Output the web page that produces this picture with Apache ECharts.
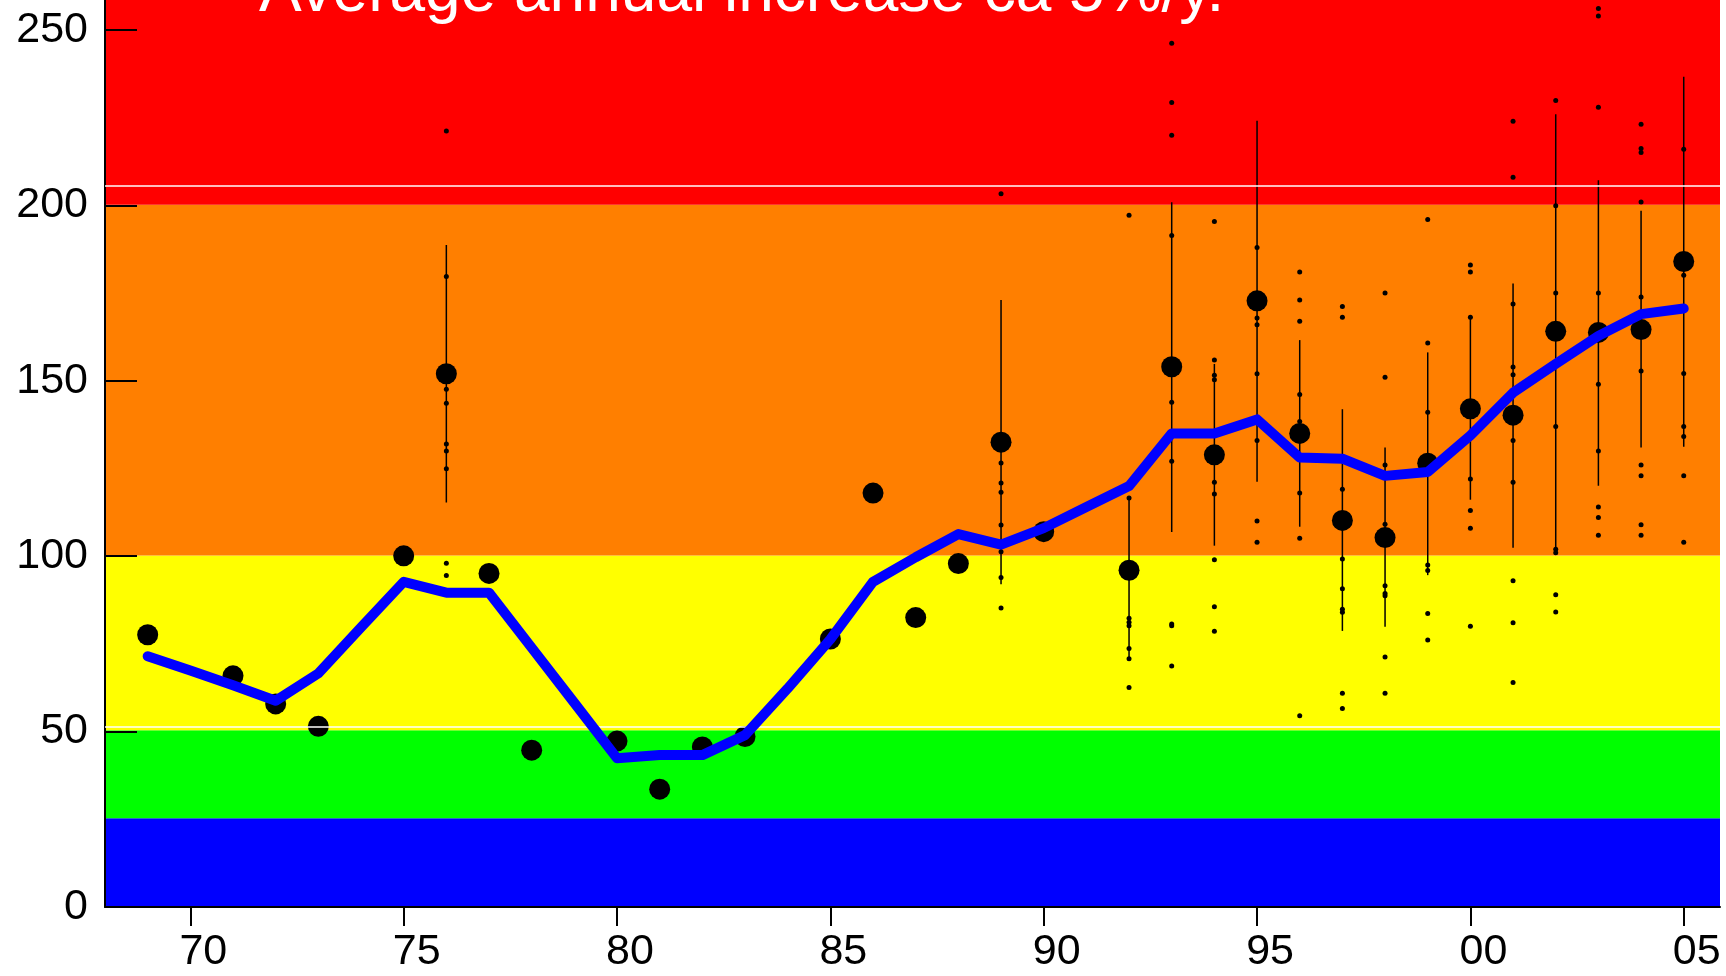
<!DOCTYPE html>
<html>
<head>
<meta charset="utf-8">
<script src="https://cdn.jsdelivr.net/npm/echarts@6/dist/echarts.min.js"></script>
<style>
    html, body { margin: 0; padding: 0; background: #fff; }
    #chart { width: 1726px; height: 976px; }
</style>
</head>
<body>
<div id="chart"></div>
<script>
// annual means (big dots)
var meanYears = [1969, 1971, 1972, 1973, 1975, 1976, 1977, 1978, 1980, 1981, 1982, 1983, 1985, 1986, 1987, 1988,
    1989, 1990, 1992, 1993, 1994, 1995, 1996, 1997, 1998, 1999, 2000, 2001, 2002, 2003, 2004, 2005];
var meanValues = [77.6, 65.9, 57.9, 51.5, 100.1, 152.0, 95.1, 44.7, 47.3, 33.6, 45.6, 48.6, 76.4, 118.0, 82.5, 97.9,
    132.5, 107.0, 96.0, 154.0, 128.9, 172.8, 135.0, 110.2, 105.3, 126.5, 142.0, 140.2, 164.1, 163.8, 164.6, 184.0];

// smoothed trend (blue line)
var trendYears = [1969, 1970, 1971, 1972, 1973, 1974, 1975, 1976, 1977, 1978, 1979, 1980, 1981, 1982, 1983, 1984,
    1985, 1986, 1987, 1988, 1989, 1990, 1991, 1992, 1993, 1994, 1995, 1996, 1997, 1998, 1999, 2000, 2001, 2002,
    2003, 2004, 2005];
var trendValues = [71.5, 67.4, 63.2, 58.8, 66.6, 79.7, 92.7, 89.6, 89.6, 73.9, 58.2, 42.4, 43.3, 43.3, 49.0, 62.3,
    76.3, 92.7, 99.7, 106.3, 103.3, 108.0, 114.0, 120.0, 135.0, 135.0, 139.0, 128.1, 127.8, 122.9, 124.0, 134.4,
    146.6, 154.8, 162.8, 169.0, 170.6];

// vertical ranges
var rangeYears = [1976, 1989, 1992, 1993, 1994, 1995, 1996, 1997, 1998, 1999, 2000, 2001, 2002, 2003, 2004, 2005];
var rangeLow  = [115.3, 92.0, 70.8, 106.9, 103.0, 121.2, 108.4, 78.7, 79.9, 94.6, 116.1, 102.4, 100.8, 120.1, 131.0, 131.2];
var rangeHigh = [188.7, 173.0, 116.6, 200.9, 154.8, 224.1, 161.6, 141.9, 131.0, 158.1, 168.1, 177.7, 226.0, 207.2, 198.5, 236.7];

// single measurements (small dots)
var sampleYears = [1976, 1989, 1992, 1993, 1994, 1995, 1996, 1997, 1998, 1999, 2000, 2001, 2002, 2003, 2004, 2005];
var sampleValues = [
    [221.2, 179.7, 147.6, 143.6, 132.0, 130.0, 124.9, 98.0, 94.5],
    [203.3, 126.6, 120.9, 118.2, 108.9, 101.3, 93.9, 85.2],
    [197.2, 116.6, 82.3, 81.2, 80.2, 73.7, 70.8, 62.6],
    [246.2, 229.3, 220.0, 191.4, 143.9, 127.1, 80.7, 80.2, 68.7],
    [195.4, 155.9, 151.6, 150.3, 121.1, 117.7, 99.0, 85.6, 78.6],
    [188.0, 167.9, 166.0, 152.0, 133.0, 110.0, 104.0],
    [181.0, 173.0, 167.0, 146.1, 138.4, 118.0, 105.1, 54.5],
    [171.2, 168.1, 119.1, 99.2, 90.7, 84.9, 84.0, 60.9, 56.6],
    [175.0, 151.0, 126.0, 109.1, 91.6, 89.4, 88.7, 71.3, 60.9],
    [196.0, 160.8, 141.0, 97.5, 95.9, 83.7, 76.1],
    [183.0, 181.0, 168.1, 122.0, 113.0, 108.0, 80.0],
    [224.0, 208.0, 171.9, 153.9, 151.7, 133.0, 121.1, 93.0, 81.0, 64.0],
    [229.9, 199.9, 175.0, 137.0, 102.0, 101.0, 89.0, 84.1],
    [256.1, 254.0, 228.0, 175.0, 149.0, 130.0, 114.0, 111.0, 106.0],
    [223.1, 216.2, 215.1, 201.0, 173.9, 152.8, 126.0, 122.9, 109.0, 106.0],
    [216.0, 180.1, 152.1, 137.0, 134.1, 122.9, 104.0]
];

// class bands and white guide lines
var bandLow  = [0, 25.3, 50.4, 100.2, 200.2];
var bandHigh = [25.3, 50.4, 100.2, 200.2, 258.55];
var bandColors = ['#0000ff', '#00ff00', '#ffff00', '#ff7f00', '#ff0000'];
var guideValues = [51.4, 205.6];

var xTicks = [1970, 1975, 1980, 1985, 1990, 1995, 2000, 2005];
var yTicks = [0, 50, 100, 150, 200, 250];

var X_MIN = 1968, X_MAX = 2005.85, Y_MAX = 258.55;
var FONT = '"Liberation Sans", Arial, sans-serif';

var trendData = trendYears.map(function(y, i) { return [y, trendValues[i]]; });
var meanData = meanYears.map(function(y, i) { return [y, meanValues[i]]; });
var rangeData = rangeYears.map(function(y, i) { return [y, rangeLow[i], rangeHigh[i]]; });
var sampleData = [];
sampleYears.forEach(function(y, i) {
    sampleValues[i].forEach(function(v) { sampleData.push([y, v]); });
});
var bandData = bandLow.map(function(lo, i) { return [X_MIN, lo, bandHigh[i]]; });

var option = {
    animation: false,
    grid: { left: 105, right: 6, top: 0, bottom: 69 },
    xAxis: {
        type: 'value',
        min: X_MIN,
        max: X_MAX,
        splitLine: { show: false },
        axisLine: { show: true, onZero: false, lineStyle: { color: '#000', width: 2 } },
        axisTick: { show: true, customValues: xTicks, length: 19, lineStyle: { color: '#000', width: 2 } },
        axisLabel: {
            customValues: xTicks,
            fontSize: 43, fontFamily: FONT, color: '#000',
            margin: 24,
            padding: [0, 0, 0, 26],
            formatter: function(v) { return String(v % 100).padStart(2, '0'); }
        }
    },
    yAxis: {
        type: 'value',
        min: 0,
        max: Y_MAX,
        splitLine: { show: false },
        axisLine: { show: true, lineStyle: { color: '#000', width: 2 } },
        axisTick: { show: true, inside: true, customValues: yTicks, length: 32, lineStyle: { color: '#000', width: 2 } },
        axisLabel: { customValues: yTicks, fontSize: 43, fontFamily: FONT, color: '#000', margin: 17 }
    },
    graphic: [{
        type: 'text',
        x: 259,
        y: -7,
        z: 100,
        style: {
            text: 'Average annual increase ca 5%/y.',
            font: '64px ' + FONT,
            fill: '#fff',
            verticalAlign: 'middle'
        }
    }],
    series: [
        {
            name: 'bands',
            type: 'custom',
            z: 0,
            silent: true,
            data: bandData,
            encode: { x: 0, y: [1, 2] },
            renderItem: function(params, api) {
                var p1 = api.coord([X_MIN, api.value(2)]);
                var p2 = api.coord([X_MAX, api.value(1)]);
                return {
                    type: 'rect',
                    shape: { x: p1[0], y: p1[1], width: p2[0] - p1[0], height: p2[1] - p1[1] },
                    style: { fill: bandColors[params.dataIndex] }
                };
            },
            markLine: {
                silent: true,
                symbol: 'none',
                label: { show: false },
                lineStyle: { color: '#fff', width: 1.5, type: 'solid', opacity: 1 },
                data: guideValues.map(function(v) { return { yAxis: v }; })
            }
        },
        {
            name: 'range',
            type: 'custom',
            z: 2,
            data: rangeData,
            encode: { x: 0, y: [1, 2] },
            renderItem: function(params, api) {
                var a = api.coord([api.value(0), api.value(1)]);
                var b = api.coord([api.value(0), api.value(2)]);
                return {
                    type: 'line',
                    shape: { x1: a[0], y1: a[1], x2: b[0], y2: b[1] },
                    style: { stroke: '#000', lineWidth: 1.5 }
                };
            }
        },
        {
            name: 'samples',
            type: 'scatter',
            z: 3,
            symbolSize: 5,
            itemStyle: { color: '#000', opacity: 1 },
            data: sampleData
        },
        {
            name: 'means',
            type: 'scatter',
            z: 4,
            symbolSize: 21,
            itemStyle: { color: '#000', opacity: 1 },
            data: meanData
        },
        {
            name: 'trend',
            type: 'line',
            z: 5,
            symbol: 'none',
            lineStyle: { color: '#0000ff', width: 10, cap: 'round', join: 'round', opacity: 1 },
            data: trendData
        }
    ]
};

var chart = echarts.init(document.getElementById('chart'));
chart.setOption(option);
</script>
</body>
</html>
